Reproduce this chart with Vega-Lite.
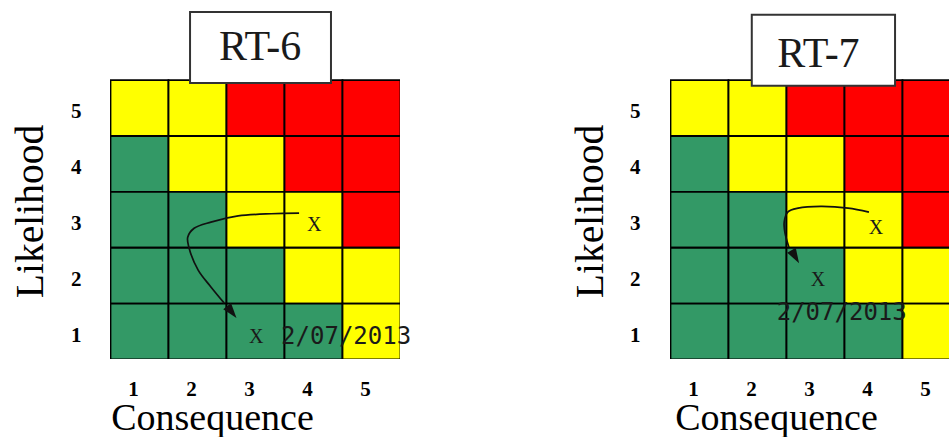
{
  "$schema": "https://vega.github.io/schema/vega-lite/v6.json",
  "padding": {"left": 10, "top": 7, "right": 0, "bottom": 0},
  "background": "white",
  "spacing": 270,
  "bounds": "flush",
  "config": {
    "view": {"stroke": null},
    "axis": {"domain": false, "grid": false, "ticks": false, "tickSize": 0, "labelFont": "Liberation Serif", "labelFontWeight": "bold", "labelFontSize": 21, "labelColor": "#000", "titleFont": "Liberation Serif", "titleFontWeight": "normal", "titleFontSize": 38, "titleColor": "#000"}
  },
  "datasets": {
    "cells": [
      {"c": 1, "l": 5, "level": "Medium"}, {"c": 2, "l": 5, "level": "Medium"}, {"c": 3, "l": 5, "level": "High"}, {"c": 4, "l": 5, "level": "High"}, {"c": 5, "l": 5, "level": "High"},
      {"c": 1, "l": 4, "level": "Low"}, {"c": 2, "l": 4, "level": "Medium"}, {"c": 3, "l": 4, "level": "Medium"}, {"c": 4, "l": 4, "level": "High"}, {"c": 5, "l": 4, "level": "High"},
      {"c": 1, "l": 3, "level": "Low"}, {"c": 2, "l": 3, "level": "Low"}, {"c": 3, "l": 3, "level": "Medium"}, {"c": 4, "l": 3, "level": "Medium"}, {"c": 5, "l": 3, "level": "High"},
      {"c": 1, "l": 2, "level": "Low"}, {"c": 2, "l": 2, "level": "Low"}, {"c": 3, "l": 2, "level": "Low"}, {"c": 4, "l": 2, "level": "Medium"}, {"c": 5, "l": 2, "level": "Medium"},
      {"c": 1, "l": 1, "level": "Low"}, {"c": 2, "l": 1, "level": "Low"}, {"c": 3, "l": 1, "level": "Low"}, {"c": 4, "l": 1, "level": "Low"}, {"c": 5, "l": 1, "level": "Medium"}
    ],
    "arrow6": [
      {"i": 0, "x": 3.76, "y": 3.11}, {"i": 1, "x": 3.28, "y": 3.10}, {"i": 2, "x": 2.71, "y": 3.06}, {"i": 3, "x": 2.24, "y": 2.95}, {"i": 4, "x": 1.95, "y": 2.84},
      {"i": 5, "x": 1.84, "y": 2.68}, {"i": 6, "x": 1.86, "y": 2.50}, {"i": 7, "x": 2.02, "y": 2.09}, {"i": 8, "x": 2.24, "y": 1.79}, {"i": 9, "x": 2.47, "y": 1.50}
    ],
    "head6": [{"x": 2.60, "y": 1.34}],
    "marks6": [{"x": 4.02, "y": 2.90, "t": "X"}, {"x": 3.02, "y": 0.89, "t": "X"}],
    "date6": [{"x": 3.45, "y": 0.89, "t": "2/07/2013"}],
    "box6": [{"x0": 1.88, "x1": 4.31, "y0": 5.44, "y1": 6.71, "t": "RT-6", "tx": 3.09, "ty": 5.85}],
    "arrow7": [
      {"i": 0, "x": 3.93, "y": 3.13}, {"i": 1, "x": 3.57, "y": 3.20}, {"i": 2, "x": 3.10, "y": 3.23}, {"i": 3, "x": 2.71, "y": 3.20},
      {"i": 4, "x": 2.53, "y": 3.13}, {"i": 5, "x": 2.47, "y": 2.96}, {"i": 6, "x": 2.48, "y": 2.77}, {"i": 7, "x": 2.55, "y": 2.50}
    ],
    "head7": [{"x": 2.66, "y": 2.33}],
    "marks7": [{"x": 4.05, "y": 2.84, "t": "X"}, {"x": 3.05, "y": 1.91, "t": "X"}],
    "date7": [{"x": 2.34, "y": 1.32, "t": "2/07/2013"}],
    "box7": [{"x0": 1.91, "x1": 4.38, "y0": 5.39, "y1": 6.66, "t": "RT-7", "tx": 3.06, "ty": 5.73}]
  },
  "hconcat": [
    {
      "width": 290,
      "height": 352,
      "layer": [
        {
          "data": {"name": "cells"},
          "mark": {"type": "rect", "stroke": "#000", "strokeWidth": 1.8, "binSpacing": 0, "clip": true},
          "encoding": {
            "x": {"field": "c", "type": "quantitative", "bin": {"extent": [0.5, 5.5], "step": 1, "nice": false}, "scale": {"domain": [0.5, 5.5], "nice": false, "zero": false},
                  "axis": {"values": [1, 2, 3, 4, 5], "format": "d", "labelPadding": 19, "labelOffset": -6, "title": "Consequence", "titleX": 102, "titleY": 70, "titleAlign": "center", "titleBaseline": "alphabetic"}},
            "y": {"field": "l", "type": "quantitative", "bin": {"extent": [0.5, 5.5], "step": 1, "nice": false}, "scale": {"domain": [0.5, 6.8], "nice": false, "zero": false},
                  "axis": {"values": [1, 2, 3, 4, 5], "format": "d", "labelPadding": 29, "labelOffset": 4, "title": "Likelihood", "titleFontSize": 39.5, "titleX": -68, "titleY": 204, "titleAngle": 270, "titleAlign": "center", "titleBaseline": "alphabetic"}},
            "color": {"field": "level", "type": "nominal", "scale": {"domain": ["Low", "Medium", "High"], "range": ["#339966", "#FFFF00", "#FF0000"]}, "legend": null}
          }
        },
        {
          "data": {"name": "arrow6"},
          "mark": {"type": "line", "interpolate": "catmull-rom", "stroke": "#111", "strokeWidth": 1.7},
          "encoding": {"x": {"field": "x", "type": "quantitative"}, "y": {"field": "y", "type": "quantitative"}, "order": {"field": "i", "type": "quantitative"}}
        },
        {
          "data": {"name": "head6"},
          "mark": {"type": "point", "shape": "M0,-1L0.65,1L-0.65,1Z", "filled": true, "color": "#111", "opacity": 1, "size": 230, "angle": 142},
          "encoding": {"x": {"field": "x", "type": "quantitative"}, "y": {"field": "y", "type": "quantitative"}}
        },
        {
          "data": {"name": "marks6"},
          "mark": {"type": "text", "font": "Liberation Serif", "fontSize": 20, "color": "#1a1a1a", "align": "center", "baseline": "middle"},
          "encoding": {"x": {"field": "x", "type": "quantitative"}, "y": {"field": "y", "type": "quantitative"}, "text": {"field": "t"}}
        },
        {
          "data": {"name": "date6"},
          "mark": {"type": "text", "font": "DejaVu Sans Mono", "fontSize": 24, "color": "#1a1a1a", "align": "left", "baseline": "middle"},
          "encoding": {"x": {"field": "x", "type": "quantitative"}, "y": {"field": "y", "type": "quantitative"}, "text": {"field": "t"}}
        },
        {
          "data": {"name": "box6"},
          "mark": {"type": "rect", "fill": "white", "stroke": "#333", "strokeWidth": 2},
          "encoding": {"x": {"field": "x0", "type": "quantitative"}, "x2": {"field": "x1"}, "y": {"field": "y0", "type": "quantitative"}, "y2": {"field": "y1"}}
        },
        {
          "data": {"name": "box6"},
          "mark": {"type": "text", "font": "Liberation Serif", "fontSize": 42, "color": "#1a1a1a", "align": "center", "baseline": "alphabetic"},
          "encoding": {"x": {"field": "tx", "type": "quantitative"}, "y": {"field": "ty", "type": "quantitative"}, "text": {"field": "t"}}
        }
      ]
    },
    {
      "width": 282,
      "height": 352,
      "layer": [
        {
          "data": {"name": "cells"},
          "mark": {"type": "rect", "stroke": "#000", "strokeWidth": 1.8, "binSpacing": 0, "clip": true},
          "encoding": {
            "x": {"field": "c", "type": "quantitative", "bin": {"extent": [0.5, 5.5], "step": 1, "nice": false}, "scale": {"domain": [0.5, 5.362], "nice": false, "zero": false},
                  "axis": {"values": [1, 2, 3, 4, 5], "format": "d", "labelPadding": 19, "labelOffset": -6, "title": "Consequence", "titleX": 106, "titleY": 70, "titleAlign": "center", "titleBaseline": "alphabetic"}},
            "y": {"field": "l", "type": "quantitative", "bin": {"extent": [0.5, 5.5], "step": 1, "nice": false}, "scale": {"domain": [0.5, 6.8], "nice": false, "zero": false},
                  "axis": {"values": [1, 2, 3, 4, 5], "format": "d", "labelPadding": 30, "labelOffset": 4, "title": "Likelihood", "titleFontSize": 39.5, "titleX": -68, "titleY": 204, "titleAngle": 270, "titleAlign": "center", "titleBaseline": "alphabetic"}},
            "color": {"field": "level", "type": "nominal", "scale": {"domain": ["Low", "Medium", "High"], "range": ["#339966", "#FFFF00", "#FF0000"]}, "legend": null}
          }
        },
        {
          "data": {"name": "arrow7"},
          "mark": {"type": "line", "interpolate": "catmull-rom", "stroke": "#111", "strokeWidth": 1.7},
          "encoding": {"x": {"field": "x", "type": "quantitative"}, "y": {"field": "y", "type": "quantitative"}, "order": {"field": "i", "type": "quantitative"}}
        },
        {
          "data": {"name": "head7"},
          "mark": {"type": "point", "shape": "M0,-1L0.65,1L-0.65,1Z", "filled": true, "color": "#111", "opacity": 1, "size": 230, "angle": 150},
          "encoding": {"x": {"field": "x", "type": "quantitative"}, "y": {"field": "y", "type": "quantitative"}}
        },
        {
          "data": {"name": "marks7"},
          "mark": {"type": "text", "font": "Liberation Serif", "fontSize": 20, "color": "#1a1a1a", "align": "center", "baseline": "middle"},
          "encoding": {"x": {"field": "x", "type": "quantitative"}, "y": {"field": "y", "type": "quantitative"}, "text": {"field": "t"}}
        },
        {
          "data": {"name": "date7"},
          "mark": {"type": "text", "font": "DejaVu Sans Mono", "fontSize": 24, "color": "#1a1a1a", "align": "left", "baseline": "middle"},
          "encoding": {"x": {"field": "x", "type": "quantitative"}, "y": {"field": "y", "type": "quantitative"}, "text": {"field": "t"}}
        },
        {
          "data": {"name": "box7"},
          "mark": {"type": "rect", "fill": "white", "stroke": "#333", "strokeWidth": 2},
          "encoding": {"x": {"field": "x0", "type": "quantitative"}, "x2": {"field": "x1"}, "y": {"field": "y0", "type": "quantitative"}, "y2": {"field": "y1"}}
        },
        {
          "data": {"name": "box7"},
          "mark": {"type": "text", "font": "Liberation Serif", "fontSize": 42, "color": "#1a1a1a", "align": "center", "baseline": "alphabetic"},
          "encoding": {"x": {"field": "tx", "type": "quantitative"}, "y": {"field": "ty", "type": "quantitative"}, "text": {"field": "t"}}
        }
      ]
    }
  ]
}
